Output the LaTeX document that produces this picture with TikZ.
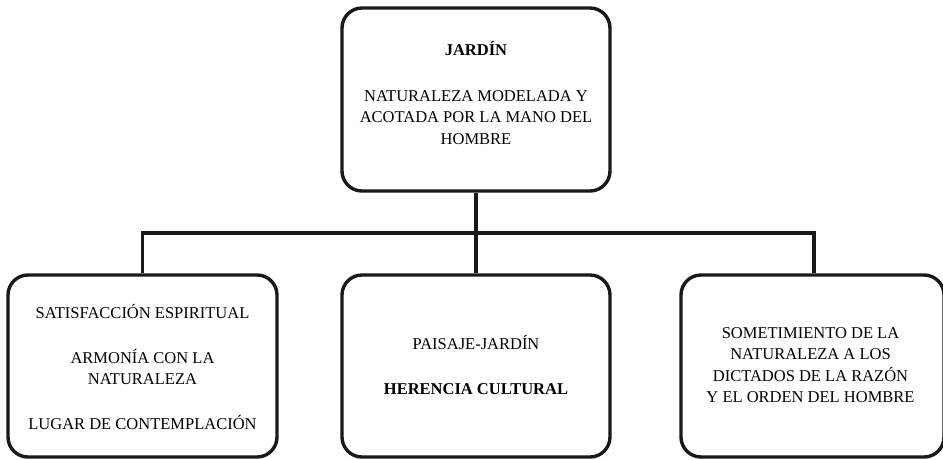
\documentclass[tikz,border=0pt]{standalone}
\usepackage{fontspec}
\setmainfont{Liberation Serif}
\begin{document}
\begin{tikzpicture}[x=1pt,y=-1pt,
  box/.style={draw=black!90, line width=3.4pt, rounded corners=20pt, inner sep=0pt},
  txt/.style={align=center, inner sep=0pt, font=\fontsize{16.5}{21.5}\selectfont},
  conn/.style={draw=black!90, line width=3.4pt, line join=miter}]
\useasboundingbox (0,0) rectangle (943,459);
\node[box, minimum width=268, minimum height=183] (top) at (476,99.5) {};
\node[box, minimum width=269, minimum height=182] (left) at (142.5,366) {};
\node[box, minimum width=268, minimum height=182] (mid) at (476,366) {};
\node[box, minimum width=263, minimum height=182] (right) at (812.5,366) {};
\node[txt] (toptxt) at (476,93) {\textbf{JARDÍN}\\[24pt]NATURALEZA MODELADA Y\\ACOTADA POR LA MANO DEL\\HOMBRE};
\node[txt] (lefttxt) at (142.5,367) {SATISFACCIÓN ESPIRITUAL\\[23.5pt]ARMONÍA CON LA\\NATURALEZA\\[23.5pt]LUGAR DE CONTEMPLACIÓN};
\node[txt] (midtxt) at (476,365) {PAISAJE-JARDÍN\\[23.5pt]\textbf{HERENCIA CULTURAL}};
\node[txt] (righttxt) at (810.5,365) {SOMETIMIENTO DE LA\\NATURALEZA A LOS\\DICTADOS DE LA RAZÓN\\Y EL ORDEN DEL HOMBRE};
\coordinate (bar) at (476,233);
\coordinate (rdrop) at ([xshift=1.5pt]right.north);
\draw[conn] (top.south) -- (bar);
\draw[conn] (left.north) -- (left.north |- bar) -- (rdrop |- bar) -- (rdrop);
\draw[conn] (bar) -- (mid.north);
\end{tikzpicture}
\end{document}
